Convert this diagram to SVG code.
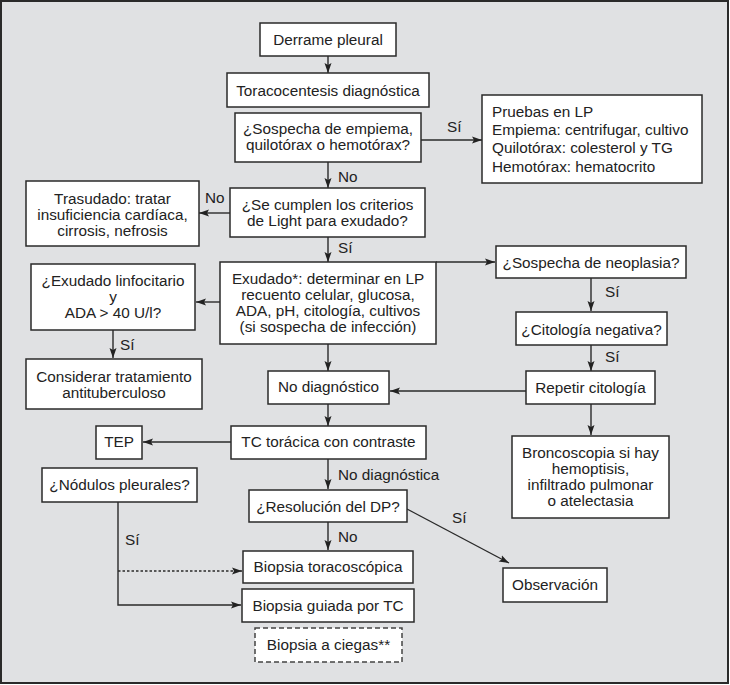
<svg xmlns="http://www.w3.org/2000/svg" width="730" height="685" viewBox="0 0 730 685">
<defs>
<marker id="ah" markerUnits="userSpaceOnUse" markerWidth="10" markerHeight="8" refX="10" refY="4" orient="auto">
<path d="M0,0.5 L10,4 L0,7.5 L2,4 z" fill="#222"/>
</marker>
<style>
text{font-family:"Liberation Sans",Arial,sans-serif;font-size:15.3px;fill:#222}
.c{text-anchor:middle}
.box{fill:#fff;stroke:#2a2a2a;stroke-width:1.5}
.dash{fill:#fff;stroke:#444;stroke-width:1.5;stroke-dasharray:5,3}
.ln{fill:none;stroke:#2a2a2a;stroke-width:1.4}
.arr{fill:none;stroke:#2a2a2a;stroke-width:1.4;marker-end:url(#ah)}
.dot{fill:none;stroke:#2a2a2a;stroke-width:1.4;stroke-dasharray:2.5,2;marker-end:url(#ah)}
</style>
</defs>
<rect x="1" y="1" width="727" height="682" fill="#e0e1e3" stroke="#2a2a2a" stroke-width="2"/>

<g id="connectors">
<line class="arr" x1="328" y1="56" x2="328" y2="73"/>
<line class="arr" x1="421" y1="140" x2="482" y2="140"/>
<line class="arr" x1="328" y1="162" x2="328" y2="188"/>
<line class="arr" x1="230" y1="213" x2="199" y2="213"/>
<line class="arr" x1="328" y1="237" x2="328" y2="262"/>
<line class="arr" x1="220" y1="302" x2="196" y2="302"/>
<polyline class="arr" points="436,262 495,262"/>
<line class="arr" x1="113" y1="330" x2="113" y2="358"/>
<line class="arr" x1="328" y1="344" x2="328" y2="371"/>
<line class="arr" x1="591" y1="278" x2="591" y2="311"/>
<line class="arr" x1="591" y1="345" x2="591" y2="371"/>
<line class="arr" x1="526" y1="391" x2="390" y2="391"/>
<line class="arr" x1="591" y1="404" x2="591" y2="435"/>
<line class="arr" x1="328" y1="404" x2="328" y2="426"/>
<line class="arr" x1="231" y1="442" x2="143" y2="442"/>
<line class="arr" x1="328" y1="459" x2="328" y2="489"/>
<line class="arr" x1="328" y1="522" x2="328" y2="550"/>
<line class="arr" x1="407" y1="509" x2="509" y2="563"/>
<polyline class="arr" points="118,502 118,605 241,605"/>
<line class="dot" x1="118" y1="571" x2="242" y2="571"/>
<text x="447" y="132">Sí</text>
<text x="338" y="182">No</text>
<text x="205" y="203">No</text>
<text x="338" y="253">Sí</text>
<text x="120" y="350">Sí</text>
<text x="605" y="297">Sí</text>
<text x="605" y="362">Sí</text>
<text x="338" y="480">No diagnóstica</text>
<text x="338" y="542">No</text>
<text x="125" y="545">Sí</text>
<text x="452" y="523">Sí</text>
</g>

<g id="n-derrame"><rect class="box" x="260" y="23" width="136" height="33"/><text class="c" x="328" y="45">Derrame pleural</text></g>
<g id="n-toraco"><rect class="box" x="227" y="73" width="202" height="34"/><text class="c" x="328" y="96">Toracocentesis diagnóstica</text></g>
<g id="n-sospecha"><rect class="box" x="235" y="113" width="186" height="49"/><text class="c" x="328" y="134">¿Sospecha de empiema,</text><text class="c" x="328" y="150">quilotórax o hemotórax?</text></g>
<g id="n-pruebas"><rect class="box" x="482" y="95" width="220" height="88"/><text x="492" y="117">Pruebas en LP</text><text x="492" y="135">Empiema: centrifugar, cultivo</text><text x="492" y="153">Quilotórax: colesterol y TG</text><text x="492" y="172">Hemotórax: hematocrito</text></g>
<g id="n-light"><rect class="box" x="230" y="188" width="195" height="49"/><text class="c" x="327.5" y="210">¿Se cumplen los criterios</text><text class="c" x="327.5" y="226">de Light para exudado?</text></g>
<g id="n-trasudado"><rect class="box" x="26" y="181" width="173" height="65"/><text class="c" x="112.5" y="204">Trasudado: tratar</text><text class="c" x="112.5" y="220">insuficiencia cardíaca,</text><text class="c" x="112.5" y="236">cirrosis, nefrosis</text></g>
<g id="n-exudado"><rect class="box" x="220" y="262" width="216" height="82"/><text class="c" x="328" y="284">Exudado*: determinar en LP</text><text class="c" x="328" y="300">recuento celular, glucosa,</text><text class="c" x="328" y="316">ADA, pH, citología, cultivos</text><text class="c" x="328" y="332">(si sospecha de infección)</text></g>
<g id="n-linfo"><rect class="box" x="31" y="264" width="164" height="66"/><text class="c" x="113" y="286">¿Exudado linfocitario</text><text class="c" x="113" y="302">y</text><text class="c" x="113" y="318">ADA &gt; 40 U/l?</text></g>
<g id="n-considerar"><rect class="box" x="26" y="359" width="176" height="50"/><text class="c" x="114" y="381.5">Considerar tratamiento</text><text class="c" x="114" y="397.5">antituberculoso</text></g>
<g id="n-neoplasia"><rect class="box" x="496" y="246" width="190" height="32"/><text class="c" x="591" y="268">¿Sospecha de neoplasia?</text></g>
<g id="n-citologia"><rect class="box" x="516" y="312" width="151" height="33"/><text class="c" x="591.5" y="335">¿Citología negativa?</text></g>
<g id="n-repetir"><rect class="box" x="526" y="371" width="129" height="33"/><text class="c" x="590.5" y="393">Repetir citología</text></g>
<g id="n-bronco"><rect class="box" x="512" y="436" width="157" height="82"/><text class="c" x="590.5" y="457.5">Broncoscopia si hay</text><text class="c" x="590.5" y="473.5">hemoptisis,</text><text class="c" x="590.5" y="489.5">infiltrado pulmonar</text><text class="c" x="590.5" y="505.5">o atelectasia</text></g>
<g id="n-nodiag"><rect class="box" x="268" y="371" width="121" height="33"/><text class="c" x="328.5" y="392">No diagnóstico</text></g>
<g id="n-tc"><rect class="box" x="231" y="426" width="195" height="33"/><text class="c" x="328.5" y="447">TC torácica con contraste</text></g>
<g id="n-tep"><rect class="box" x="96" y="426" width="46" height="33"/><text class="c" x="119" y="447">TEP</text></g>
<g id="n-nodulos"><rect class="box" x="42" y="468" width="155" height="34"/><text class="c" x="119.5" y="490">¿Nódulos pleurales?</text></g>
<g id="n-resolucion"><rect class="box" x="249" y="490" width="158" height="32"/><text class="c" x="328" y="512">¿Resolución del DP?</text></g>
<g id="n-toracoscopica"><rect class="box" x="243" y="551" width="170" height="32"/><text class="c" x="328" y="572">Biopsia toracoscópica</text></g>
<g id="n-guiada"><rect class="box" x="242" y="589" width="172" height="33"/><text class="c" x="328" y="611">Biopsia guiada por TC</text></g>
<g id="n-ciegas"><rect class="dash" x="255" y="628" width="147" height="34"/><text class="c" x="328.5" y="650">Biopsia a ciegas**</text></g>
<g id="n-observacion"><rect class="box" x="503" y="568" width="104" height="34"/><text class="c" x="555" y="590">Observación</text></g>
</svg>
